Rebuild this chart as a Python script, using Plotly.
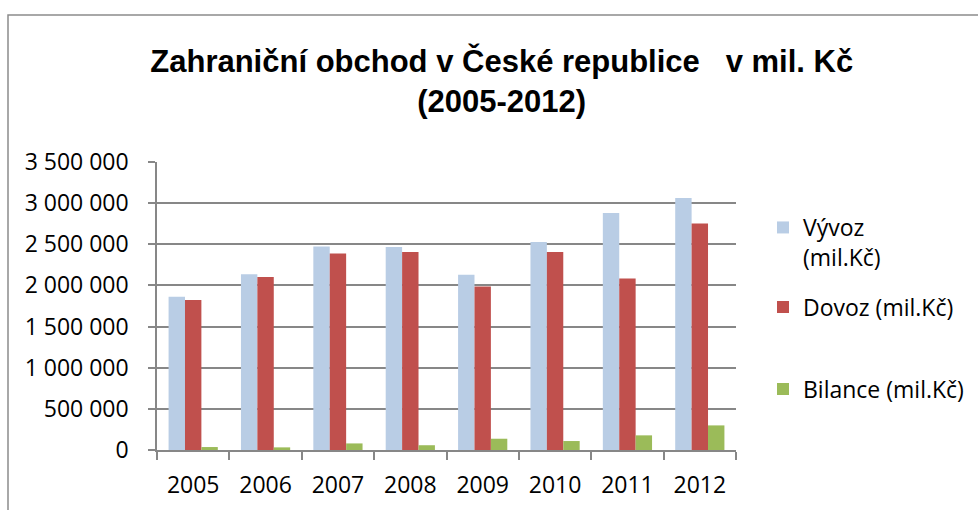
import plotly.graph_objects as go

years = ["2005", "2006", "2007", "2008", "2009", "2010", "2011", "2012"]
vyvoz = [1863000, 2137000, 2472000, 2468000, 2129000, 2528000, 2879000, 3061000]
dovoz = [1823000, 2101000, 2387000, 2407000, 1988000, 2407000, 2085000, 2754000]
bilance = [36000, 32000, 80000, 58000, 137000, 109000, 178000, 299000]

series_names = ["Vývoz<br>(mil.Kč)", "Dovoz (mil.Kč)", "Bilance (mil.Kč)"]
colors = ["#B9CDE5", "#C0504D", "#9BBB59"]
y_ticks = [0, 500000, 1000000, 1500000, 2000000, 2500000, 3000000, 3500000]

W, H = 978, 510
L, R, T, B = 157, 242, 162, 60
pw, ph = W - L - R, H - T - B

def px_x(p):
    return (p - L) / pw

def px_y(p):
    return (H - B - p) / ph

fig = go.Figure()
legends = ["legend", "legend2", "legend3"]
for vals, name, col, lg in zip([vyvoz, dovoz, bilance], series_names, colors, legends):
    fig.add_trace(go.Bar(x=years, y=vals, name=name, marker_color=col,
                         marker_line_width=0, legend=lg, showlegend=True))

FONT = "Open Sans, sans-serif"
grid = "#878787"

leg_common = dict(font=dict(family=FONT, size=23, color="#000000"),
                  bgcolor="rgba(0,0,0,0)", xanchor="left", valign="top",
                  itemwidth=30, visible=True)
fig.update_layout(
    width=W, height=H,
    showlegend=True,
    margin=dict(l=L, r=R, t=T, b=B, autoexpand=False),
    paper_bgcolor="white", plot_bgcolor="white",
    separators=", ",
    barmode="group", bargap=0.32, bargroupgap=0,
    title=dict(
        text="Zahraniční obchod v České republice\u00a0\u00a0 v mil. Kč<br>(2005-2012)",
        font=dict(family="Liberation Sans, Arial, sans-serif", size=31,
                  color="#000000", weight="bold"),
        x=0.513, xanchor="center", xref="container",
        y=1 - 72 / H, yanchor="top", yref="container"),
    legend=dict(x=px_x(763), y=px_y(206), yanchor="top", **leg_common),
    legend2=dict(x=px_x(763), y=px_y(307), yanchor="middle", **leg_common),
    legend3=dict(x=px_x(763), y=px_y(389), yanchor="middle", **leg_common),
    xaxis=dict(
        type="category", showline=True, linecolor=grid, linewidth=1.5,
        ticks="outside", tickson="boundaries", ticklen=8, tickcolor=grid, tickwidth=1.5,
        tickfont=dict(family=FONT, size=23, color="#000000"),
        ticklabelstandoff=14, showgrid=False),
    yaxis=dict(
        range=[0, 3500000], tickvals=y_ticks, tickformat=",.0f",
        showline=True, linecolor=grid, linewidth=1.5,
        ticks="outside", ticklen=7, tickcolor=grid, tickwidth=1.5,
        showgrid=True, gridcolor=grid, gridwidth=1.5, zeroline=False,
        tickfont=dict(family=FONT, size=23, color="#000000"),
        ticklabelstandoff=15),
    shapes=[dict(type="rect", xref="paper", yref="paper",
                 x0=px_x(8), x1=px_x(990), y0=px_y(520), y1=px_y(15),
                 line=dict(color="#8C8C8C", width=1.5), fillcolor="rgba(0,0,0,0)",
                 layer="below")],
)

fig.write_html("out.html", config={"displayModeBar": False},
               post_script="document.body.style.margin='0';")
